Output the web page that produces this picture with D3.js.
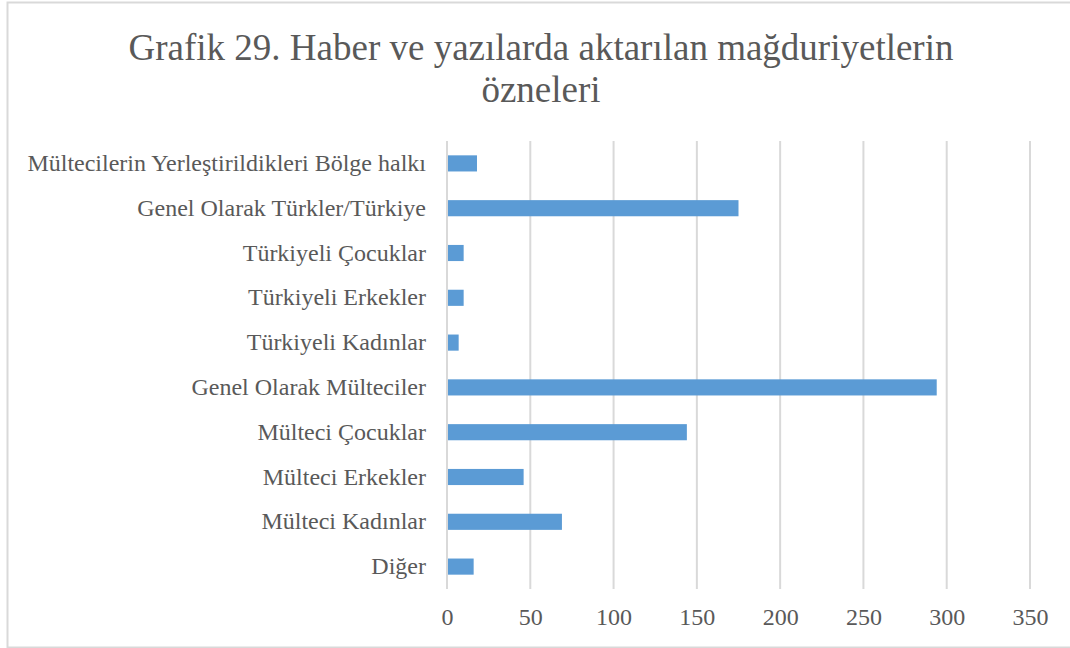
<!DOCTYPE html>
<html>
<head>
<meta charset="utf-8">
<script src="https://cdn.jsdelivr.net/npm/d3@7"></script>
<style>
  body { margin: 0; background: #fff; }
  svg { display: block; }
</style>
</head>
<body>
<div id="chart"></div>
<script>
const titleLines = ["Grafik 29. Haber ve yazılarda aktarılan mağduriyetlerin", "özneleri"];
const categories = [
  "Mültecilerin Yerleştirildikleri Bölge halkı",
  "Genel Olarak Türkler/Türkiye",
  "Türkiyeli Çocuklar",
  "Türkiyeli Erkekler",
  "Türkiyeli Kadınlar",
  "Genel Olarak Mülteciler",
  "Mülteci Çocuklar",
  "Mülteci Erkekler",
  "Mülteci Kadınlar",
  "Diğer"
];
const values = [18, 175, 10, 10, 7, 294, 144, 46, 69, 16];
const xTicks = [0, 50, 100, 150, 200, 250, 300, 350];

const width = 1070, height = 648;
const margin = { left: 447, right: 40, top: 141, bottom: 59 };
const font = "Liberation Serif, Times New Roman, serif";

const svg = d3.select("#chart").append("svg")
  .attr("width", width)
  .attr("height", height);

// chart border
svg.append("rect")
  .attr("x", 7.5).attr("y", 2.5)
  .attr("width", width + 10).attr("height", 645)
  .attr("fill", "white")
  .attr("stroke", "#d9d9d9")
  .attr("stroke-width", 2);

svg.selectAll("text.title")
  .data(titleLines)
  .enter().append("text")
  .attr("class", "title")
  .attr("x", 541)
  .attr("y", (d, i) => 60 + i * 42)
  .attr("text-anchor", "middle")
  .style("font-family", font)
  .style("font-size", "37px")
  .attr("fill", "#595959")
  .text(d => d);

const x = d3.scaleLinear()
  .domain([0, 350])
  .range([margin.left, width - margin.right]);

const y = d3.scaleBand()
  .domain(categories)
  .range([margin.top, height - margin.bottom])
  .paddingInner(0.64)
  .paddingOuter(0.32);

// gridlines
svg.append("g")
  .selectAll("line")
  .data(xTicks)
  .enter().append("line")
  .attr("x1", d => x(d)).attr("x2", d => x(d))
  .attr("y1", margin.top).attr("y2", height - margin.bottom)
  .attr("stroke", "#d9d9d9")
  .attr("stroke-width", 2);

// bars
svg.append("g")
  .selectAll("rect")
  .data(values)
  .enter().append("rect")
  .attr("x", x(0) + 1)
  .attr("y", (d, i) => y(categories[i]))
  .attr("width", d => x(d) - x(0) - 1)
  .attr("height", y.bandwidth())
  .attr("fill", "#5b9bd5");

// x axis labels
const xAxis = svg.append("g")
  .attr("transform", "translate(0," + (height - margin.bottom) + ")")
  .call(d3.axisBottom(x).tickValues(xTicks).tickSize(0).tickPadding(19));
xAxis.select(".domain").remove();
xAxis.selectAll("text")
  .style("font-family", font)
  .style("font-size", "24px")
  .attr("fill", "#595959");

// y axis labels
const yAxis = svg.append("g")
  .attr("transform", "translate(" + margin.left + ",0)")
  .call(d3.axisLeft(y).tickSize(0).tickPadding(21));
yAxis.select(".domain").remove();
yAxis.selectAll("text")
  .style("font-family", font)
  .style("font-size", "24px")
  .attr("fill", "#595959");
</script>
</body>
</html>
